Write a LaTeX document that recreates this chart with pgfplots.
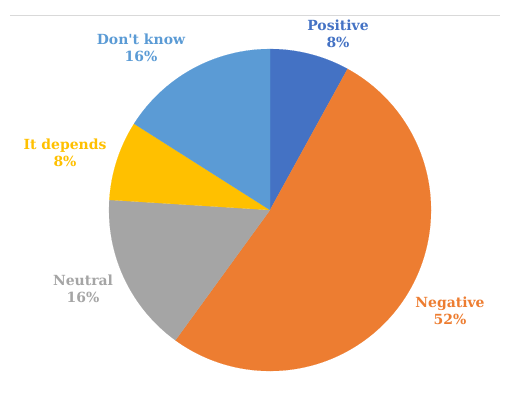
\documentclass[border=0pt]{standalone}
\usepackage{pgfplots}
\pgfplotsset{compat=1.18}
\usepgfplotslibrary{polar}
\usepackage{fontspec}
\setmainfont{DejaVu Serif}
\newfontfamily\lblfont{DejaVu Serif}
\definecolor{cPos}{HTML}{4472C4}
\definecolor{cNeg}{HTML}{ED7D31}
\definecolor{cNeu}{HTML}{A5A5A5}
\definecolor{cDep}{HTML}{FFC000}
\definecolor{cDk}{HTML}{5B9BD5}
\definecolor{cLine}{HTML}{D9D9D9}
\begin{document}
\begin{tikzpicture}[x=1bp,y=1bp]
\useasboundingbox (0,0) rectangle (529,396);
\draw[cLine, line width=1bp] (10,380) -- (500,380);
\begin{polaraxis}[
  at={(270bp,186bp)}, anchor=center,
  scale only axis, width=322bp, height=322bp,
  ymin=0, ymax=1, xmin=0, xmax=360,
  hide axis, ticks=none, clip=false,
]
% shares: Positive 8, Negative 52, Neutral 16, It depends 8, Don't know 16 (clockwise from top)
\addplot[fill=cPos, draw=cPos, line width=0.1pt, domain=61.2:90, samples=20] {1} -- (axis cs:0,0) -- cycle;
\addplot[fill=cNeg, draw=cNeg, line width=0.1pt, domain=-126:61.2, samples=120] {1} -- (axis cs:0,0) -- cycle;
\addplot[fill=cNeu, draw=cNeu, line width=0.1pt, domain=-183.6:-126, samples=40] {1} -- (axis cs:0,0) -- cycle;
\addplot[fill=cDep, draw=cDep, line width=0.1pt, domain=-212.4:-183.6, samples=20] {1} -- (axis cs:0,0) -- cycle;
\addplot[fill=cDk, draw=cDk, line width=0.1pt, domain=-270:-212.4, samples=40] {1} -- (axis cs:0,0) -- cycle;
\end{polaraxis}
\begin{scope}[every node/.style={align=center, font=\lblfont\fontsize{14}{17}\selectfont\bfseries, inner sep=0pt}]
\node[text=cPos] at (338,362) {Positive\\8\%};
\node[text=cDk] at (141,348) {Don't know\\16\%};
\node[text=cDep] at (65,243) {It depends\\8\%};
\node[text=cNeu] at (83,107) {Neutral\\16\%};
\node[text=cNeg] at (450,85) {Negative\\52\%};
\end{scope}
\end{tikzpicture}
\end{document}
